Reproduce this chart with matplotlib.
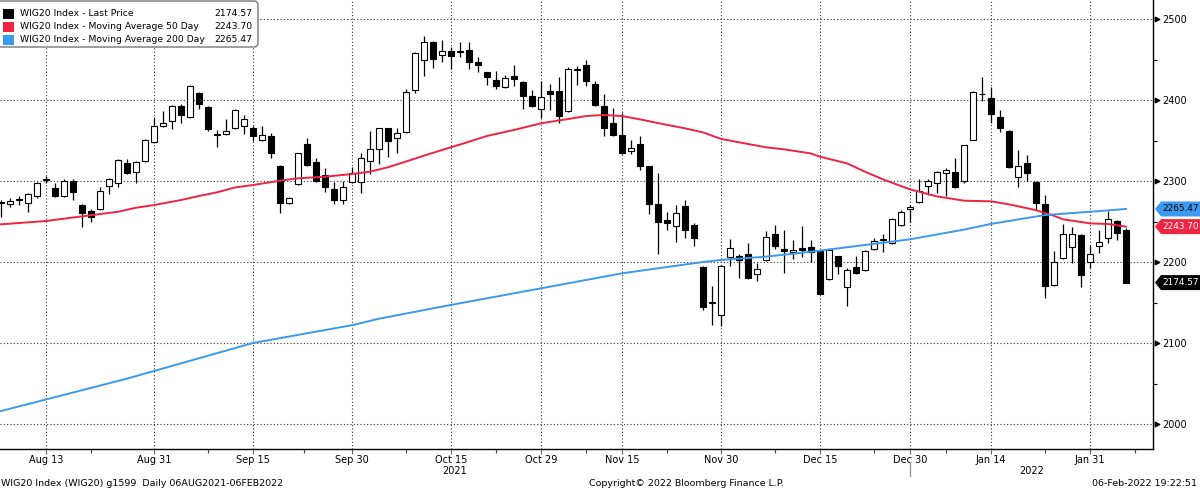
import numpy as np
import pandas as pd
import matplotlib
matplotlib.use('Agg')
import matplotlib.pyplot as plt
from matplotlib.patches import Polygon, FancyBboxPatch

plt.rcParams['font.family'] = ['DejaVu Sans']

# WSE trading days shown on the chart
holidays = ['2021-11-01', '2021-11-11', '2021-12-24', '2021-12-31', '2022-01-06']
days = pd.bdate_range('2021-08-06', '2022-02-04')
days = days[~days.isin(pd.to_datetime(holidays))]

# daily OHLC
opens = [2273, 2271, 2276, 2273, 2282, 2301, 2291, 2282, 2300, 2270,
         2263, 2265, 2294, 2298, 2322, 2311, 2325, 2348, 2368, 2374,
         2392, 2379, 2409, 2391, 2357, 2358, 2366, 2368, 2366, 2351,
         2356, 2318, 2273, 2296, 2346, 2323, 2308, 2290, 2277, 2299,
         2299, 2325, 2339, 2365, 2353, 2360, 2412, 2449, 2472, 2455,
         2460, 2459, 2462, 2447, 2434, 2425, 2416, 2430, 2422, 2405,
         2389, 2411, 2411, 2386, 2437, 2443, 2420, 2393, 2371, 2357,
         2337, 2346, 2318, 2272, 2252, 2245, 2269, 2246, 2194, 2149,
         2135, 2206, 2208, 2210, 2185, 2202, 2235, 2216, 2212, 2217,
         2218, 2213, 2179, 2207, 2169, 2194, 2190, 2216, 2227, 2224,
         2246, 2265, 2274, 2294, 2297, 2310, 2311, 2300, 2351, 2407,
         2403, 2379, 2362, 2305, 2322, 2299, 2271, 2171, 2205, 2218,
         2233, 2200, 2220, 2230, 2250, 2240]
highs = [2276, 2279, 2281, 2285, 2299, 2306, 2297, 2302, 2302, 2272,
         2265, 2292, 2304, 2327, 2327, 2325, 2352, 2379, 2387, 2394,
         2395, 2418, 2410, 2393, 2363, 2377, 2389, 2381, 2368, 2368,
         2359, 2320, 2280, 2335, 2353, 2328, 2316, 2299, 2300, 2317,
         2334, 2362, 2366, 2366, 2365, 2414, 2459, 2479, 2473, 2474,
         2466, 2472, 2472, 2453, 2435, 2436, 2431, 2443, 2423, 2412,
         2424, 2420, 2429, 2441, 2442, 2449, 2424, 2407, 2390, 2384,
         2351, 2356, 2319, 2310, 2262, 2270, 2276, 2248, 2195, 2170,
         2196, 2229, 2210, 2224, 2199, 2238, 2246, 2239, 2227, 2245,
         2227, 2214, 2217, 2208, 2192, 2207, 2215, 2230, 2234, 2254,
         2264, 2270, 2303, 2302, 2312, 2316, 2328, 2345, 2411, 2429,
         2416, 2388, 2363, 2338, 2332, 2300, 2283, 2214, 2247, 2243,
         2235, 2221, 2239, 2263, 2252, 2242]
lows = [2256, 2268, 2270, 2262, 2279, 2297, 2280, 2280, 2276, 2243,
        2249, 2264, 2284, 2293, 2309, 2298, 2324, 2347, 2367, 2364,
        2372, 2378, 2389, 2362, 2342, 2357, 2364, 2358, 2349, 2349,
        2328, 2261, 2272, 2295, 2318, 2299, 2287, 2272, 2272, 2298,
        2285, 2309, 2321, 2330, 2335, 2359, 2409, 2430, 2440, 2447,
        2438, 2453, 2438, 2434, 2418, 2414, 2415, 2417, 2389, 2391,
        2378, 2388, 2372, 2385, 2419, 2417, 2392, 2355, 2356, 2333,
        2333, 2313, 2259, 2210, 2239, 2225, 2230, 2220, 2141, 2122,
        2121, 2195, 2180, 2179, 2177, 2201, 2216, 2186, 2204, 2206,
        2200, 2160, 2178, 2185, 2146, 2185, 2189, 2215, 2212, 2222,
        2244, 2249, 2273, 2283, 2285, 2281, 2291, 2297, 2351, 2399,
        2371, 2360, 2316, 2292, 2300, 2264, 2155, 2170, 2204, 2199,
        2169, 2192, 2211, 2223, 2227, 2174.57]
closes = [2274, 2275, 2278, 2284, 2298, 2303, 2282, 2300, 2286, 2261,
          2256, 2288, 2302, 2326, 2310, 2324, 2351, 2368, 2371, 2393,
          2381, 2417, 2395, 2364, 2357.5, 2362, 2388, 2376, 2356, 2357,
          2334, 2273, 2279, 2334, 2320, 2300, 2293, 2276, 2292, 2310,
          2329, 2339, 2365, 2349, 2359, 2410, 2458, 2472, 2451, 2460,
          2454, 2460, 2447, 2443, 2428, 2417, 2427, 2426, 2405, 2393,
          2404, 2407, 2380, 2438, 2438, 2423, 2394, 2366, 2357, 2334,
          2341, 2318, 2272, 2249, 2248, 2261, 2240, 2230, 2144, 2150,
          2195, 2217, 2202, 2180, 2191, 2231, 2220, 2213, 2215, 2215,
          2212, 2161, 2215, 2195, 2190, 2187, 2213, 2226, 2228, 2253,
          2262, 2268, 2288, 2300, 2311, 2313, 2292, 2344, 2410, 2408,
          2383, 2365, 2317, 2318, 2310, 2273, 2170, 2200, 2235, 2235,
          2184, 2210, 2225, 2253, 2236, 2174.57]

# moving averages (trading day number, value)
ma50_days = [0, 5, 10, 13, 15, 17, 20, 22, 24, 26, 28, 31, 33, 36, 39, 41, 43,
             45, 47, 49, 51, 54, 57, 60, 63, 65, 67, 69, 71, 73, 76, 78, 80,
             83, 85, 87, 90, 91, 94, 96, 98, 101, 104, 107, 110, 112, 115,
             117, 118, 121, 123, 125]
ma50_vals = [2246.5, 2250.6, 2257.8, 2262, 2267, 2270.3, 2276.5, 2281.5, 2286,
             2292, 2295, 2300.4, 2303.3, 2305.3, 2308.6, 2311.5, 2317, 2324,
             2331.3, 2338.3, 2345, 2355.6, 2363, 2371.2, 2376.5, 2380.2,
             2381.5, 2380.2, 2376.1, 2371.5, 2365, 2360, 2352, 2345.7, 2341.6,
             2339.1, 2334, 2330, 2321.8, 2311.5, 2302, 2289.7, 2281, 2275.7,
             2274.9, 2271.2, 2264, 2257, 2252.7, 2247.7, 2246.9, 2243.70]
ma200_days = [0, 7, 14, 21, 28, 34, 39, 42, 50, 60, 69, 78, 80, 85, 91, 101,
              107, 110, 116, 121, 125]
ma200_vals = [2016, 2036, 2056, 2078, 2100, 2112, 2122, 2130, 2147, 2167.5,
              2186, 2200, 2202.5, 2206.6, 2214, 2228, 2240, 2247, 2258, 2262,
              2265.47]

tick_dates = ['2021-08-13', '2021-08-31', '2021-09-15', '2021-09-30',
              '2021-10-15', '2021-10-29', '2021-11-15', '2021-11-30',
              '2021-12-15', '2021-12-30', '2022-01-14', '2022-01-31']
tick_labels = ['Aug 13', 'Aug 31', 'Sep 15', 'Sep 30', 'Oct 15', 'Oct 29',
               'Nov 15', 'Nov 30', 'Dec 15', 'Dec 30', 'Jan 14', 'Jan 31']
minor_days = [10, 23, 33.7, 45, 55, 65, 74, 86, 97, 105, 116, 126]

legend_names = ['WIG20 Index - Last Price',
                'WIG20 Index - Moving Average 50 Day',
                'WIG20 Index - Moving Average 200 Day']
legend_values = ['2174.57', '2243.70', '2265.47']

RED = '#ee2440'
BLUE = '#3a9af0'
W, H = 1200, 491

fig = plt.figure(figsize=(W / 100, H / 100), dpi=100)
ax = fig.add_axes([0, 1 - 449 / H, 1153 / W, 449 / H])

x = np.arange(len(days))
o, hi, lo, c = (np.array(v, dtype=float) for v in (opens, highs, lows, closes))
up = c >= o

# grid
ax.grid(True, which='major', linestyle=(0, (1, 2)), color='#333333', lw=0.8, zorder=0)

# candles
ax.vlines(x, lo, hi, color='black', lw=0.9, zorder=3)
ax.bar(x, np.maximum(np.abs(c - o), 0.4), bottom=np.minimum(o, c), width=0.66,
       color=np.where(up, 'white', 'black'), edgecolor='black', linewidth=0.8, zorder=4)

# moving averages
ax.plot(ma50_days, ma50_vals, color=RED, lw=1.4, zorder=5)
ax.plot(ma200_days, ma200_vals, color=BLUE, lw=1.4, zorder=5)

ax.set_xlim(-0.11, 128)
ax.set_ylim(2000 - 25 / 0.81, 2000 + 424 / 0.81)

# axes look
for s in ('top', 'left'):
    ax.spines[s].set_visible(False)
ax.spines['right'].set_linewidth(1)
ax.spines['bottom'].set_linewidth(1)

ax.set_xticks(days.get_indexer(pd.to_datetime(tick_dates)))
ax.set_xticklabels(tick_labels)
ax.set_xticks(minor_days, minor=True)
ax.tick_params(axis='x', which='major', length=3.5, color='#666666', width=0.8,
               labelsize=7, pad=0.5)
ax.tick_params(axis='x', which='minor', length=3, color='#444444', width=0.8)

yt = [2000, 2100, 2200, 2300, 2400, 2500]
ax.yaxis.tick_right()
ax.set_yticks(yt)
ax.set_yticks([2050, 2150, 2250, 2350, 2450], minor=True)
ax.tick_params(axis='y', which='major', length=0, pad=7, labelsize=7)
ax.tick_params(axis='y', which='minor', length=3, width=0.8)
ax.scatter([1.0035] * len(yt), yt, marker='>', s=10, color='black',
           transform=ax.get_yaxis_transform(), clip_on=False, zorder=6)

# overlay in pixel units for the annotations
ov = fig.add_axes([0, 0, 1, 1], zorder=10)
ov.set_xlim(0, W)
ov.set_ylim(H, 0)
ov.axis('off')
ov.patch.set_alpha(0)


def price_px(p):
    return H - ax.transData.transform((0, p))[1]


# legend box
ov.add_patch(FancyBboxPatch((-4, 1), 262, 46, boxstyle='round,pad=0,rounding_size=4',
                            facecolor='white', edgecolor='#777777', lw=1))
for k, (name, val, col) in enumerate(zip(legend_names, legend_values, ['black', RED, BLUE])):
    yy = 13.5 + 13 * k
    ov.add_patch(plt.Rectangle((3, yy - 5), 11, 10, facecolor=col, edgecolor='none'))
    ov.text(20, yy, name, fontsize=6.7, va='center', ha='left')
    ov.text(252, yy, val, fontsize=6.7, va='center', ha='right')

# last value tags on the right
for val, col, tc in [(2265.47, BLUE, 'black'), (2243.70, RED, 'white'), (2174.57, 'black', 'white')]:
    yc = price_px(val)
    ov.add_patch(Polygon([(1155, yc), (1161, yc - 7.5), (1200, yc - 7.5), (1200, yc + 7.5), (1161, yc + 7.5)],
                         closed=True, facecolor=col, edgecolor='none'))
    ov.text(1198.5, yc, '%.2f' % val, color=tc, fontsize=6.4, va='center', ha='right')

# year labels and separator
ov.text(455, 471, '2021', fontsize=7, ha='center', va='center')
ov.text(1032, 471, '2022', fontsize=7, ha='center', va='center')
ov.plot([910, 910], [462, 476], color='#999999', lw=1)

# footer
ov.text(1, 484, 'WIG20 Index (WIG20) g1599  Daily 06AUG2021-06FEB2022', fontsize=6.8,
        ha='left', va='center')
ov.text(589, 484, 'Copyright\u00a9 2022 Bloomberg Finance L.P.', fontsize=6.8,
        ha='left', va='center')
ov.text(1197, 484, '06-Feb-2022 19:22:51', fontsize=6.8, ha='right', va='center')

fig.savefig('out.png', dpi=100)
